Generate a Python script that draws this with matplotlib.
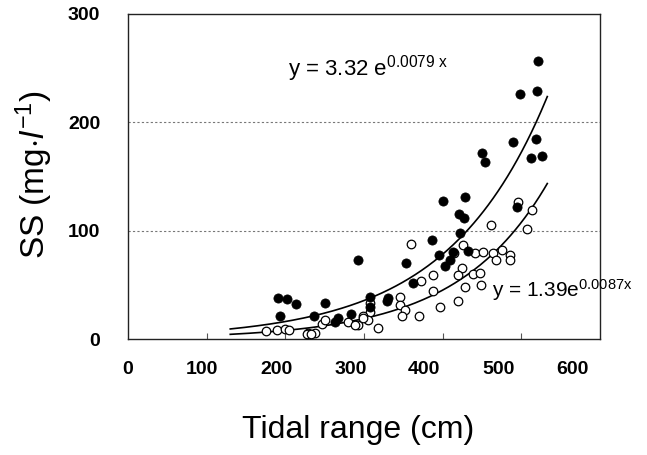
import numpy as np
import matplotlib
matplotlib.use("Agg")
import matplotlib.pyplot as plt

plt.rcParams['font.family'] = ['Liberation Sans', 'DejaVu Sans']
plt.rcParams['mathtext.fontset'] = 'custom'
plt.rcParams['mathtext.rm'] = 'Liberation Sans'
plt.rcParams['mathtext.it'] = 'Liberation Sans:italic'

# Filled circles (tidal range cm, SS mg/l)
filled_x = [521, 498, 520, 490, 519, 512, 526, 450, 454, 495, 400, 429, 421, 427, 422,
            386, 395, 432, 413, 409, 403, 354, 362, 293, 308, 307, 329, 331, 284, 250,
            237, 263, 267, 191, 202, 213, 193]
filled_y = [257, 226, 229, 182, 185, 167, 169, 172, 163, 122, 127, 131, 115, 112, 98,
            91, 78, 81, 80, 73, 67, 70, 52, 73, 39, 30, 35, 38, 23, 33,
            21, 16, 19, 38, 37, 32, 21]

# Open circles
open_x = [496, 514, 507, 462, 426, 360, 415, 441, 451, 464, 476, 485, 485, 468, 424,
          420, 439, 447, 388, 372, 428, 449, 388, 419, 397, 346, 346, 352, 348, 370,
          307, 308, 299, 305, 318, 293, 280, 247, 251, 229, 238, 176, 189, 200, 205,
          227, 233, 289, 299]
open_y = [126, 119, 102, 105, 87, 88, 79, 79, 80, 79, 82, 78, 73, 73, 66,
          59, 60, 61, 59, 54, 48, 50, 44, 35, 30, 39, 31, 27, 21, 21,
          33, 25, 21, 18, 10, 13, 16, 14, 18, 6, 6, 7, 8, 9, 8,
          5, 5, 13, 19]

# Fitted curves y = a * exp(b x)
fit_filled = (3.32, 0.0079)
fit_open = (1.39, 0.0087)
fit_range = (130, 533)

x_tick_values = [0, 100, 200, 300, 400, 500, 600]
y_tick_values = [0, 100, 200, 300]

fig = plt.figure(figsize=(6.47, 4.55), dpi=100)
ax = fig.add_axes([128/647, 1-339/455, (600-128)/647, (339-14)/455])
ax.set_xlim(0, 600)
ax.set_ylim(0, 300)

for yv in [100, 200]:
    ax.axhline(yv, color='#777777', lw=0.8, ls=(0, (2, 2)), zorder=1)

xx = np.linspace(fit_range[0], fit_range[1], 200)
ax.plot(xx, fit_filled[0]*np.exp(fit_filled[1]*xx), color='black', lw=1.2, zorder=2)
ax.plot(xx, fit_open[0]*np.exp(fit_open[1]*xx), color='black', lw=1.2, zorder=2)

ax.scatter(open_x, open_y, s=38, facecolors='white', edgecolors='black', linewidths=0.9, zorder=3)
ax.scatter(filled_x, filled_y, s=44, facecolors='black', edgecolors='black', linewidths=0.5, zorder=4)

for sp in ax.spines.values():
    sp.set_linewidth(1.0)
    sp.set_color('#222222')

# tick labels (as printed, slightly offset from axis scale)
ax.set_xticks([v*0.942 for v in x_tick_values])
ax.set_xticklabels([str(v) for v in x_tick_values], fontsize=14, fontweight='bold')
ax.set_xticks([100, 200, 300, 400, 500], minor=True)
ax.tick_params(axis='x', which='major', length=0, pad=16)
ax.tick_params(axis='x', which='minor', direction='in', length=4, width=0.8, color='#555555')
ax.set_yticks(y_tick_values)
ax.set_yticklabels([str(v) for v in y_tick_values], fontsize=14, fontweight='bold')
ax.tick_params(axis='y', length=0, pad=20)

ax.text(0.339, 0.81, r'y = 3.32 e$^{0.0079\ \mathrm{x}}$', transform=ax.transAxes, fontsize=16,
        ha='left', va='baseline')
ax.text(0.771, 0.129, r'y = 1.39e$^{0.0087\mathrm{x}}$', transform=ax.transAxes, fontsize=15,
        ha='left', va='baseline', clip_on=False)

fig.text(358/647, 1-430/455, 'Tidal range (cm)', fontsize=23, ha='center', va='center')
fig.text(34/647, 1-175/455, r'SS (mg$\cdot\mathit{l}^{-1}$)', fontsize=24, ha='center',
         va='center', rotation=90)

fig.savefig('out.png', dpi=100)
